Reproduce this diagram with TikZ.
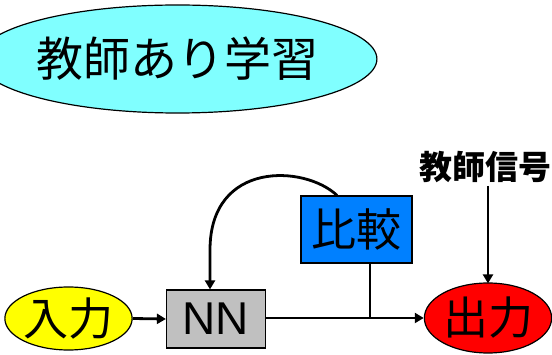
\documentclass[tikz,border=0pt]{standalone}
\usepackage{fontspec}
\newfontfamily\cjk{Noto Sans CJK JP}
\setsansfont{Liberation Sans}
\usetikzlibrary{shapes.geometric,arrows.meta}
\definecolor{titlecyan}{RGB}{128,255,255}
\definecolor{inyellow}{RGB}{255,255,0}
\definecolor{nngray}{RGB}{192,192,192}
\definecolor{cmpblue}{RGB}{0,128,255}
\definecolor{outred}{RGB}{255,0,0}
\tikzset{
  oval/.style={ellipse,draw=black,line width=1.2pt,inner sep=0pt},
  blockbox/.style={rectangle,draw=black,line width=1.2pt,inner sep=0pt},
  big/.style={font=\cjk\fontsize{45}{45}\selectfont},
  conn/.style={line width=2.8pt,draw=black},
  arr/.style={conn,-{Triangle[width=10pt,length=9pt]}},
}
\begin{document}
\begin{tikzpicture}[x=1pt,y=-1pt]
\useasboundingbox (0,0) rectangle (552,355);
\node[oval,fill=titlecyan,minimum width=345pt,minimum height=108pt,font=\cjk\fontsize{47}{47}\selectfont] (title) at (177.5,59) {教師あり学習};
\node[oval,fill=inyellow,minimum width=117pt,minimum height=63pt,big] (in) at (68.5,318.5) {入力};
\node[blockbox,fill=nngray,minimum width=99pt,minimum height=58pt,font=\sffamily\fontsize{46}{46}\selectfont] (nn) at (216,319) {NN};
\node[blockbox,fill=cmpblue,minimum width=111pt,minimum height=67pt,big] (cmp) at (356.5,229.5) {比較};
\node[oval,fill=outred,minimum width=125pt,minimum height=70pt,big] (out) at (488,318) {出力};
\node[font=\cjk\bfseries\fontsize{33}{33}\selectfont,inner sep=3pt] (sig) at (485,167) {教師信号};
\coordinate (j) at (370,318);
\draw[arr] (in.east) -- (nn.west);
\draw[arr] (nn.east |- out.west) -- (out.west);
\draw[conn] (cmp.south -| j) -- (j);
\draw[arr] (sig.south -| out.north) -- ([yshift=-1pt]out.north);
\coordinate (cs) at (cmp.north -| 337,0);
\coordinate (nt) at (nn.north -| 210,0);
\draw[arr] (cs) .. controls (305,165) and (210,160) .. (210,250) -- (nt);
\end{tikzpicture}
\end{document}
